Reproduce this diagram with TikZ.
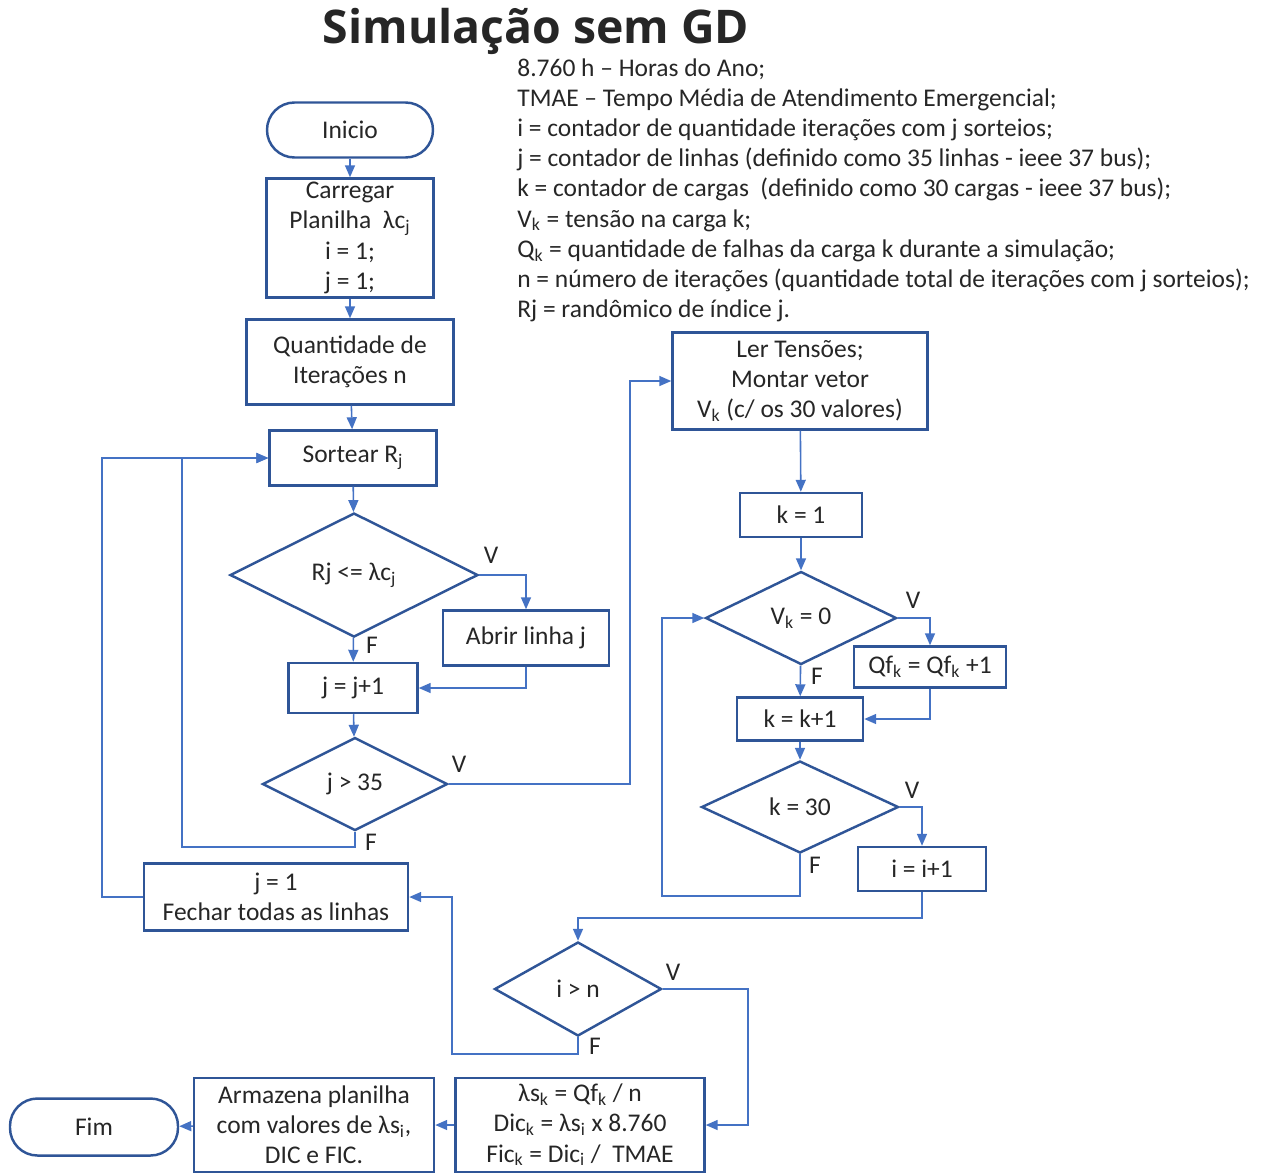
\documentclass[tikz,border=0pt]{standalone}
\usepackage{fontspec}
\setmainfont{Carlito}
\newfontfamily\titlefont{Open Sans}
\usetikzlibrary{shapes.geometric,arrows.meta}

\definecolor{boxblue}{HTML}{2F5597}
\definecolor{linkblue}{HTML}{4472C4}

\begin{document}
\begin{tikzpicture}[x=0.02cm, y=-0.02cm,
  every node/.style={font=\fontsize{14.5}{17.2}\selectfont, text=black!85},
  procbox/.style 2 args={draw=boxblue, line width=1.4pt, rectangle, align=center, inner sep=0pt, minimum width=#1*0.02cm, minimum height=#2*0.02cm},
  decision/.style 2 args={draw=boxblue, line width=1.4pt, diamond, aspect=2, align=center, inner sep=0pt, minimum width=#1*0.02cm, minimum height=#2*0.02cm},
  terminal/.style 2 args={procbox={#1}{#2}, rounded corners=0.55cm},
  flow/.style={draw=linkblue, line width=0.9pt, -{Triangle[length=0.24cm,width=0.2cm]}},
  tag/.style={inner sep=0pt}]
\useasboundingbox (0,0) rectangle (1264,1174);

% title and legend
\node[inner sep=0pt] (title) at (536,31) {\titlefont\bfseries\fontsize{26.4}{30}\selectfont Simulação sem GD};
\node[inner sep=0pt, anchor=north west, align=left] (legend) at (517,58) {8.760 h -- Horas do Ano;\\
TMAE -- Tempo Média de Atendimento Emergencial;\\
i = contador de quantidade iterações com j sorteios;\\
j = contador de linhas (definido como 35 linhas - ieee 37 bus);\\
k = contador de cargas\ \ (definido como 30 cargas - ieee 37 bus);\\
V\textsubscript{k} = tensão na carga k;\\
Q\textsubscript{k} = quantidade de falhas da carga k durante a simulação;\\
n = número de iterações (quantidade total de iterações com j sorteios);\\
Rj = randômico de índice j.};

% left column
\node[terminal={166}{55}] (inicio) at (350,130) {Inicio};
\node[procbox={167}{119}] (carregar) at (350,238) {Carregar\\Planilha\ \ λc\textsubscript{j}\\i = 1;\\j = 1;};
\node[procbox={207}{85}] (quant) at (350,362) {Quantidade de\\Iterações n};
\node[procbox={167}{55}] (sortear) at (353,458) {Sortear R\textsubscript{j}};
\node[decision={248}{124}] (rj) at (354,575) {Rj <= λc\textsubscript{j}};
\node[procbox={166}{55}] (abrir) at (526,638) {Abrir linha j};
\node[procbox={129}{50}] (jinc) at (353,688) {j = j+1};
\node[decision={185}{93}] (jmax) at (355,784) {j > 35};
\node[procbox={264}{67}] (fechar) at (276,897) {j = 1\\Fechar todas as linhas};

% right column
\node[procbox={255}{97}] (ler) at (800,381) {Ler Tensões;\\Montar vetor\\V\textsubscript{k} (c/ os 30 valores)};
\node[procbox={122}{44}] (kone) at (801,515) {k = 1};
\node[decision={191}{93}] (vk) at (801,618) {V\textsubscript{k} = 0};
\node[procbox={152}{41}] (qf) at (930,667) {Qf\textsubscript{k} = Qf\textsubscript{k} +1};
\node[procbox={126}{43}] (kinc) at (800,719) {k = k+1};
\node[decision={197}{92}] (kmax) at (800,807) {k = 30};
\node[procbox={128}{44}] (iinc) at (922,869) {i = i+1};

% bottom
\node[decision={167}{94}] (imax) at (578,989) {i > n};
\node[procbox={249}{94}] (calc) at (580,1125) {λs\textsubscript{k} = Qf\textsubscript{k} / n\\Dic\textsubscript{k} = λs\textsubscript{i} x 8.760\\Fic\textsubscript{k} = Dic\textsubscript{i} /\ \ TMAE};
\node[procbox={240}{94}] (armaz) at (314,1125) {Armazena planilha\\com valores de λs\textsubscript{i},\\DIC e FIC.};
\node[terminal={168}{57}] (fim) at (94,1127) {Fim};

% V / F labels
\node[tag] (rjv) at (491,555) {V};
\node[tag] (rjf) at (372,645) {F};
\node[tag] (jmaxv) at (459,764) {V};
\node[tag] (jmaxf) at (371,842) {F};
\node[tag] (vkv) at (913,600) {V};
\node[tag] (vkf) at (817,676) {F};
\node[tag] (kmaxv) at (912,790) {V};
\node[tag] (kmaxf) at (815,865) {F};
\node[tag] (imaxv) at (673,972) {V};
\node[tag] (imaxf) at (595,1046) {F};

% connectors
\draw[flow] (inicio) -- (carregar);
\draw[flow] (carregar) -- (quant);
\draw[flow] (quant) -- (sortear);
\draw[flow] (sortear) -- (rj);
\draw[flow] (rj.east) -| (abrir.north);
\draw[flow] (rj) -- (jinc);
\draw[flow] (abrir.south) |- (jinc.east);
\draw[flow] (jinc) -- (jmax);
\draw[flow] (jmax.east) -- ++(181,0) |- (ler.west);
\draw[flow] (jmax.south) -- ++(0,15) -- ++(-173,0) |- (sortear.west);
\draw[flow] (fechar.west) -- ++(-41,0) |- (sortear.west);
\draw[flow] (ler) -- (kone);
\draw[flow] (kone) -- (vk);
\draw[flow] (vk.east) -| (qf.north);
\draw[flow] (vk) -- (kinc);
\draw[flow] (qf.south) |- (kinc.east);
\draw[flow] (kinc) -- (kmax);
\draw[flow] (kmax.east) -| (iinc.north);
\draw[flow] (kmax.south) -- ++(0,42) -- ++(-138,0) |- (vk.west);
\draw[flow] (iinc.south) -- ++(0,26) -| (imax.north);
\draw[flow] (imax.east) -- ++(85,0) |- (calc.east);
\draw[flow] (imax.south) -- ++(0,17) -- ++(-126,0) |- (fechar.east);
\draw[flow] (calc) -- (armaz);
\draw[flow] (armaz) -- (fim);
\end{tikzpicture}
\end{document}
